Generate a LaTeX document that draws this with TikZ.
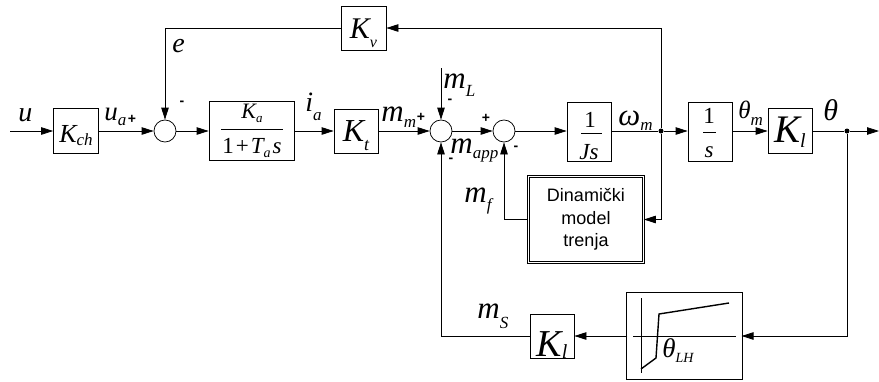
\documentclass[tikz,border=0pt]{standalone}
\usepackage{fontspec}
\setmainfont{Liberation Serif}
\newfontfamily\sansfam{Liberation Sans}
\usetikzlibrary{arrows.meta}
\newcommand\fs[1]{\fontsize{#1}{#1}\selectfont}
\newcommand\lsub[3]{\raisebox{-#1}{\fs{#2}\itshape #3}}
\begin{document}
\begin{tikzpicture}[x=1pt,y=1pt,line width=0.75pt,
  >={Triangle[length=12pt,width=7.5pt]},
  box/.style={draw,rectangle,inner sep=0pt,minimum width=44pt,minimum height=44pt},
  dbox/.style={draw,rectangle,inner sep=0pt,double,double distance=1.8pt,line width=0.7pt},
  sumc/.style={draw,circle,inner sep=0pt,minimum size=22pt},
  jdot/.style={circle,fill,inner sep=0pt,minimum size=5pt},
  arr/.style={->},
  lbl/.style={anchor=base west,inner sep=0pt},
  sgn/.style={inner sep=0pt,font=\sansfam\bfseries\fs{14}}]
\useasboundingbox (0,0) rectangle (879,-381);

% main row
\coordinate (in) at (10,-131);
\node[box,minimum width=45pt,minimum height=45pt,text height=22pt,text depth=0pt] (kch) at (76,-131) {\fs{26}\itshape K\lsub{3pt}{17}{ch}};
\node[sumc] (s1) at (165,-131) {};
\node[box,minimum width=85pt,minimum height=59pt] (ka) at (251.5,-131) {};
\node[anchor=base,inner sep=0pt] (kanum) at (252,-118) {\fs{22}\itshape K\lsub{4pt}{13}{a}};
\draw[line width=0.7pt] (221,-129) -- (283,-129);
\node[anchor=base,inner sep=0pt] (kaden) at (252,-153) {\fs{23}1\hspace{2pt}+\hspace{2pt}\itshape T\lsub{4pt}{14}{a}\hspace{2pt}s};
\node[box,text height=20pt,text depth=0pt] (kt) at (356,-131) {\fs{32}\itshape K\lsub{9pt}{18}{t}};
\node[sumc] (s2) at (441,-131) {};
\node[sumc] (s3) at (504,-131) {};
\coordinate (mL) at (441,-68);
\node[box,minimum height=59pt] (js) at (589,-132) {};
\node[anchor=base,inner sep=0pt] (jsnum) at (590,-127) {\fs{23}1};
\draw[line width=0.7pt] (581,-133) -- (602,-133);
\node[anchor=base,inner sep=0pt] (jsden) at (589,-159) {\fs{23}\itshape Js};
\node[jdot] (jw) at (661,-131) {};
\node[box,minimum height=59pt] (is) at (710,-131.5) {};
\node[anchor=base,inner sep=0pt] (isnum) at (709,-123) {\fs{23}1};
\draw[line width=0.7pt] (703,-132) -- (716,-132);
\node[anchor=base,inner sep=0pt] (isden) at (709,-157) {\fs{23}\itshape s};
\node[box,minimum height=45pt,text height=22pt,text depth=0pt] (kl) at (790,-131) {\fs{39}\itshape K\lsub{5pt}{20}{l}};
\node[jdot] (jt) at (847,-131) {};
\coordinate (out) at (879,-131);

% feedback blocks
\node[box,minimum width=45pt,text height=20pt,text depth=0pt] (kv) at (363.5,-28) {\fs{30}\itshape K\lsub{9pt}{16}{v}};
\node[dbox,minimum width=115pt,minimum height=86pt,align=center,font=\sansfam\fontsize{18}{22.5}\selectfont] (fr) at (586,-219.5) {Dinamički\\model\\trenja};
\node[dbox,minimum width=113.5pt,minimum height=84.5pt] (bl) at (684.5,-336) {};
\draw (641,-298) -- (641,-373);
\draw (633,-336.5) -- (736,-336.5);
\draw[line width=1.4pt] (641,-369) -- (656,-358) -- (659,-314) -- (729,-303);
\node[box,text height=40pt,text depth=0pt] (kl2) at (552,-336) {\fs{38}\itshape K\lsub{2pt}{20}{l}};

% connectors
\draw[arr] (in) -- (kch.west);
\draw[arr] (kch.east) -- (s1.west);
\draw[arr] (s1.east) -- (ka.west);
\draw[arr] (ka.east) -- (kt.west);
\draw[arr] (kt.east) -- (s2.west);
\draw[arr] (mL) -- (s2.north);
\draw[arr] (s2.east) -- (s3.west);
\draw[arr] (s3.east) -- (s3.east -| js.west);
\draw (js.east |- jw) -- (jw);
\draw[arr] (jw) -- (jw -| is.west);
\draw[arr] (is.east |- jw) -- (kl.west);
\draw (kl.east) -- (jt);
\draw[arr] (jt) -- (out);
\draw[arr] (jw) |- (kv.east);
\draw[arr] (kv.west) -| (s1.north);
\draw[arr] (jw) |- (fr.east);
\draw[arr] (fr.west) -| (s3.south);
\draw[arr] (jt) |- (bl.east);
\draw[arr] (bl.west) -- (kl2.east);
\draw[arr] (kl2.west) -| (s2.south);

% labels
\node[lbl] (lu) at (18,-121) {\fs{28}\itshape u};
\node[lbl] (lua) at (104,-120) {\fs{27}\itshape u\lsub{5pt}{17}{a}};
\node[sgn] (pua) at (132,-119) {+};
\node[lbl] (le) at (172,-52) {\fs{28}\itshape e};
\node[sgn] (ms1) at (182,-103) {-};
\node[lbl] (lia) at (305,-111) {\fs{28}\itshape i\lsub{9pt}{17}{a}};
\node[lbl] (lmm) at (381,-121) {\fs{31}\itshape m\lsub{6pt}{17}{m}};
\node[sgn] (pmm) at (421,-117) {+};
\node[lbl] (lmL) at (443,-88) {\fs{31}\itshape m\lsub{8pt}{17}{L}};
\node[sgn] (mmL) at (450,-101) {-};
\node[sgn] (ps3) at (486,-118) {+};
\node[lbl] (lmapp) at (450,-153) {\fs{31}\itshape m\lsub{5pt}{17}{app}};
\node[sgn] (mapp) at (451,-160) {-};
\node[sgn] (ms3) at (516,-148) {-};
\node[lbl] (lmf) at (464,-202) {\fs{31}\itshape m\lsub{8pt}{17}{f}};
\node[lbl] (lw) at (618,-125) {\fs{31}\itshape ω\lsub{5pt}{17}{m}};
\node[lbl] (ltm) at (738,-118) {\fs{25}\itshape θ\lsub{7pt}{17}{m}};
\node[lbl] (lt) at (823,-120) {\fs{30}\itshape θ};
\node[lbl] (lms) at (477,-318) {\fs{31}\itshape m\lsub{10pt}{17}{S}};
\node[lbl] (ltlh) at (662,-357) {\fs{27}\itshape θ\lsub{5pt}{14}{LH}};
\end{tikzpicture}
\end{document}
